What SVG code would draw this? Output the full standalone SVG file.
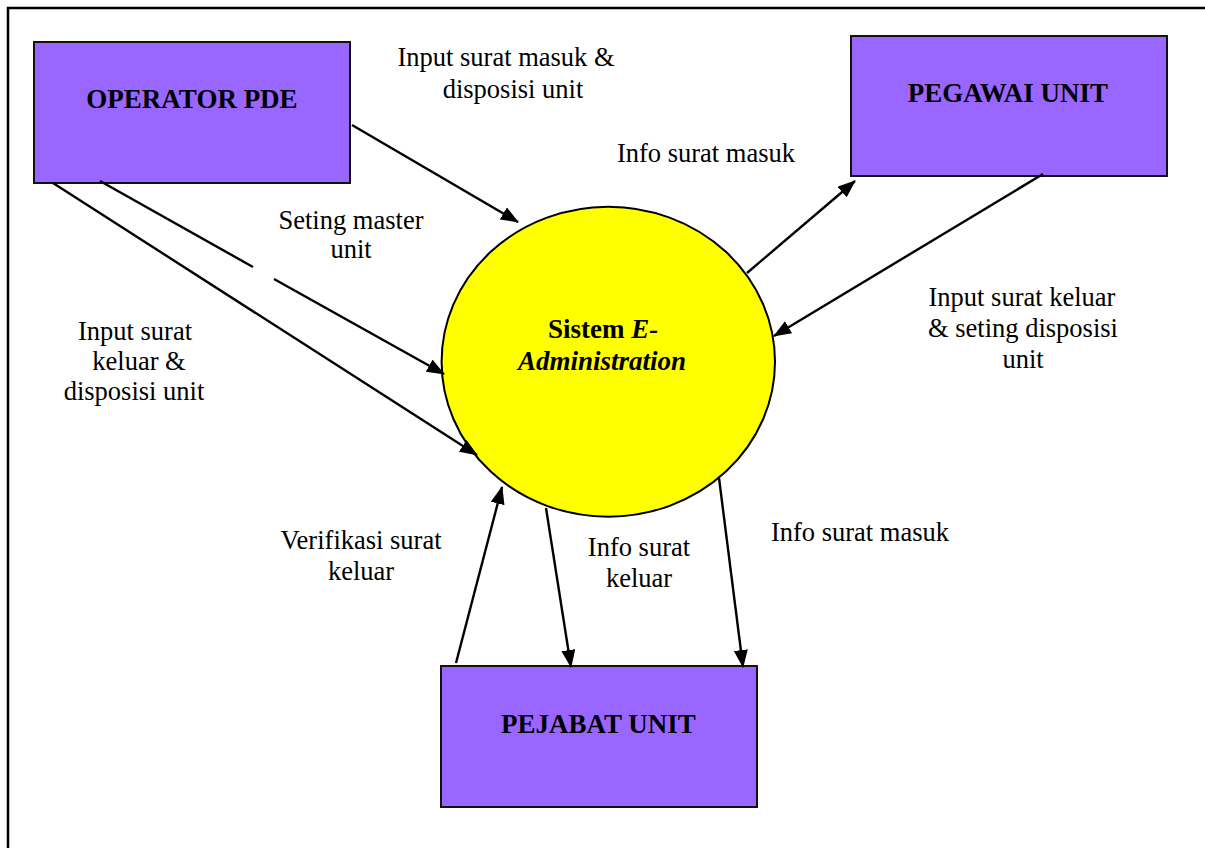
<svg xmlns="http://www.w3.org/2000/svg" width="1205" height="848" viewBox="0 0 1205 848">
<style>
.box{fill:#9966FF;stroke:#111;stroke-width:2}
.bubble{fill:#FFFF00;stroke:#000;stroke-width:2}
.title{font-family:"Liberation Serif","Times New Roman",serif;font-size:27px;font-weight:bold;text-anchor:middle;fill:#000}
.lbl{font-family:"Liberation Serif","Times New Roman",serif;font-size:26.5px;text-anchor:middle;fill:#000}
.conn{stroke:#000;stroke-width:2.4;fill:none;marker-end:url(#ah)}
</style>
<defs>
<marker id="ah" viewBox="0 0 18 14" refX="17" refY="7" markerWidth="18" markerHeight="14" markerUnits="userSpaceOnUse" orient="auto">
<path d="M0,0 L18,7 L0,14 Z" fill="#000"/>
</marker>
</defs>
<rect x="0" y="0" width="1205" height="848" fill="#fff"/>
<rect x="8" y="8" width="1220" height="860" fill="none" stroke="#000" stroke-width="2.5"/>

<g id="operator-pde">
<rect class="box" x="34" y="42" width="316" height="141"/>
<text class="title" x="192" y="108">OPERATOR PDE</text>
</g>
<g id="pegawai-unit">
<rect class="box" x="851" y="36" width="316" height="140"/>
<text class="title" x="1008" y="102">PEGAWAI UNIT</text>
</g>
<g id="pejabat-unit">
<rect class="box" x="441" y="666" width="316" height="141"/>
<text class="title" x="598.5" y="733">PEJABAT UNIT</text>
</g>
<g id="sistem">
<ellipse class="bubble" cx="608.3" cy="361.7" rx="166.7" ry="155"/>
<text class="title" x="603" y="338">Sistem <tspan font-style="italic">E-</tspan></text>
<text class="title" x="602" y="370" font-style="italic">Administration</text>
</g>

<g id="connectors">
<path class="conn" d="M352,125 L518,222"/>
<path d="M100,181 L253,267" stroke="#000" stroke-width="2.4" fill="none"/>
<path class="conn" d="M274,279 L444,374"/>
<path class="conn" d="M53,183 L477,455"/>
<path class="conn" d="M747,273 L855,181"/>
<path class="conn" d="M1043,174 L774,336"/>
<path class="conn" d="M456,663 L502,487"/>
<path class="conn" d="M546,508 L571,667"/>
<path class="conn" d="M719,478 L743,667"/>
</g>

<g id="labels">
<text class="lbl" x="506" y="66">Input surat masuk &amp;</text>
<text class="lbl" x="513" y="98">disposisi unit</text>
<text class="lbl" x="706" y="162">Info surat masuk</text>
<text class="lbl" x="351" y="229">Seting master</text>
<text class="lbl" x="351" y="258">unit</text>
<text class="lbl" x="135" y="340">Input surat</text>
<text class="lbl" x="139" y="370">keluar &amp;</text>
<text class="lbl" x="134" y="400">disposisi unit</text>
<text class="lbl" x="1022" y="306">Input surat keluar</text>
<text class="lbl" x="1023" y="337">&amp; seting disposisi</text>
<text class="lbl" x="1023" y="368">unit</text>
<text class="lbl" x="361" y="549">Verifikasi surat</text>
<text class="lbl" x="361" y="580">keluar</text>
<text class="lbl" x="639" y="556">Info surat</text>
<text class="lbl" x="639" y="587">keluar</text>
<text class="lbl" x="860" y="541">Info surat masuk</text>
</g>
</svg>
